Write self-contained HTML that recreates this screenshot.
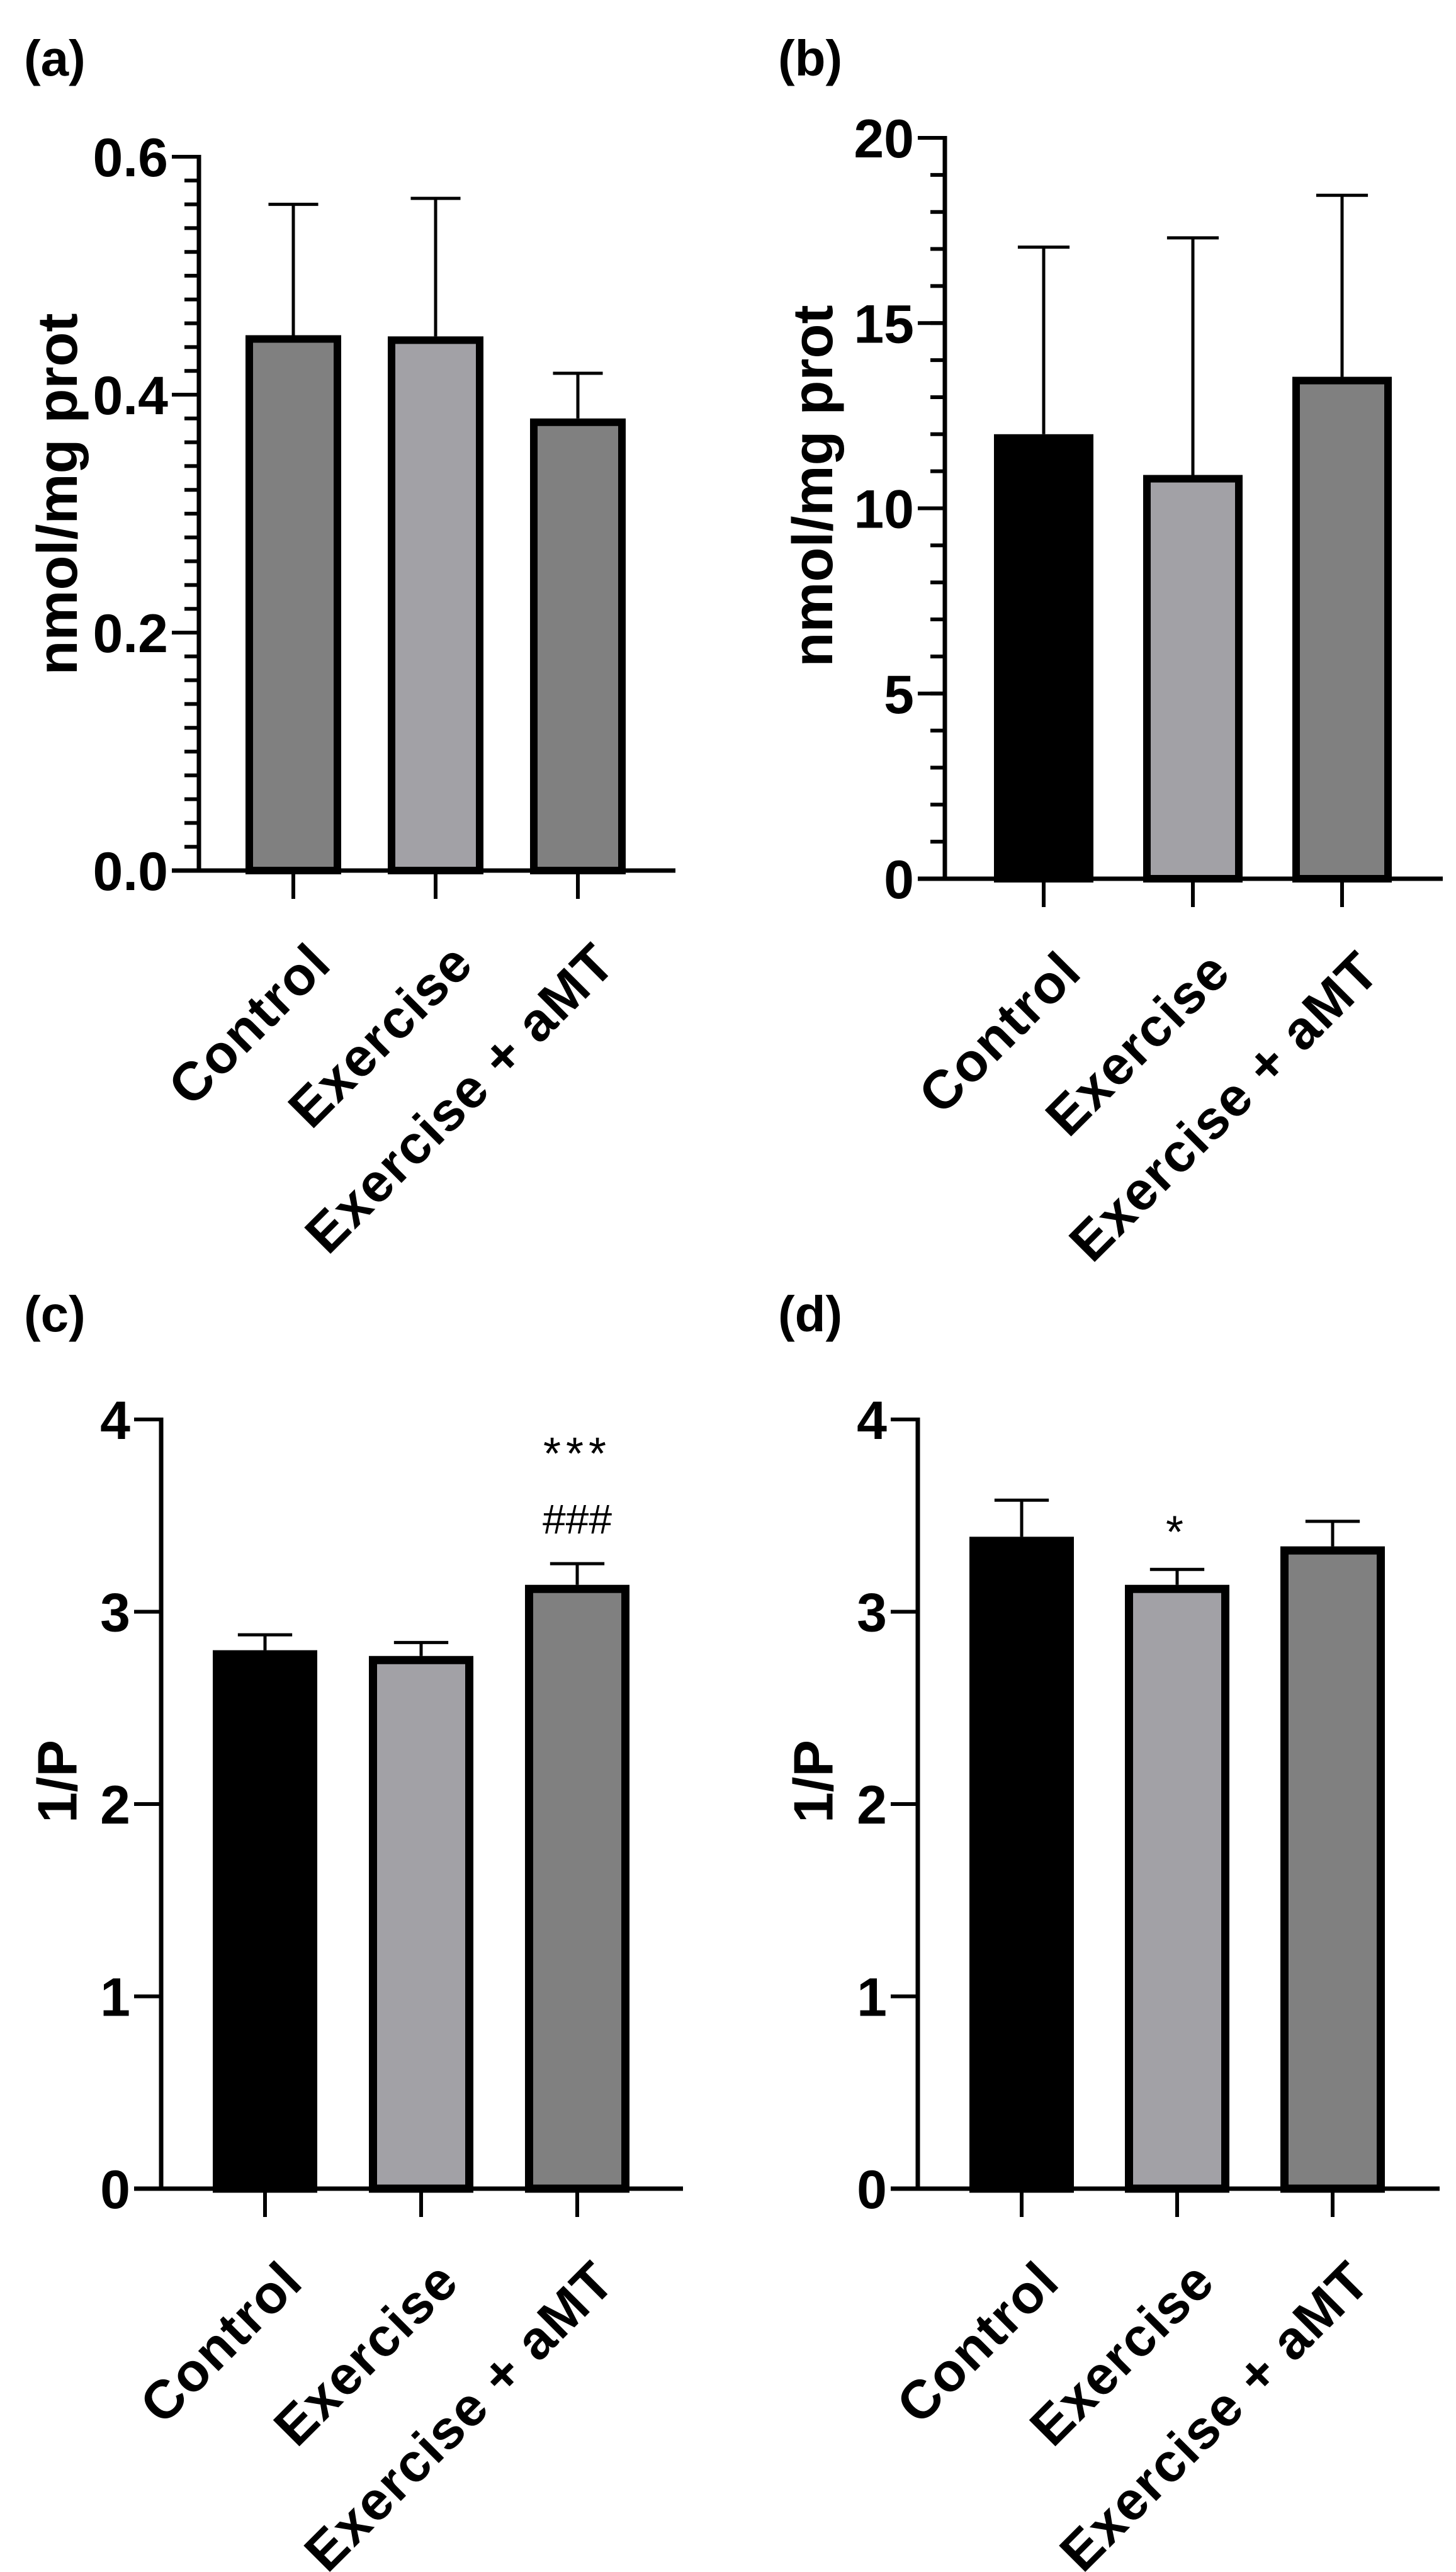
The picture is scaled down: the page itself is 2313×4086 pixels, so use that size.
<!DOCTYPE html>
<html><head><meta charset="utf-8"><style>
html,body{margin:0;padding:0;background:#fff;}
svg{display:block;}
text{font-family:"Liberation Sans",Arial,sans-serif;}
</style></head><body>
<svg id="fig" width="2313" height="4086" viewBox="0 0 2313 4086" xmlns="http://www.w3.org/2000/svg"></svg>
<script>
const categories = ["Control", "Exercise", "Exercise + aMT"];
const valuesA = [0.45, 0.449, 0.38];
const errTopA = [0.560, 0.565, 0.418];
const valuesB = [12.0, 10.9, 13.55];
const errTopB = [17.05, 17.3, 18.45];
const valuesC = [2.80, 2.77, 3.14];
const errTopC = [2.88, 2.84, 3.25];
const valuesD = [3.39, 3.14, 3.34];
const errTopD = [3.58, 3.22, 3.47];
const ticksA = [0, 0.2, 0.4, 0.6];
const tickLabelsA = ["0.0", "0.2", "0.4", "0.6"];
const ticksB = [0, 5, 10, 15, 20];
const tickLabelsB = ["0", "5", "10", "15", "20"];
const ticksCD = [0, 1, 2, 3, 4];
const tickLabelsCD = ["0", "1", "2", "3", "4"];
const annotC = ["", "", "***"];
const annotC2 = ["", "", "###"];
const annotD = ["", "*", ""];

const NS = "http://www.w3.org/2000/svg";
const svg = document.getElementById("fig");
function mk(tag, attrs, parent, txt) {
  const e = document.createElementNS(NS, tag);
  for (const k in attrs) e.setAttribute(k, attrs[k]);
  if (txt !== undefined) e.textContent = txt;
  (parent || svg).appendChild(e);
  return e;
}

function panel(p) {
  const g = mk("g", {});
  
  
  const y = v => p.y0 - (v / p.max) * (p.y0 - p.yTop);
  const xc = i => p.x0 + p.offset + i * p.step;

  const lbl = mk("text", {x: p.lx, y: p.ly, "font-size": 80, "font-weight": "bold"}, g, "(" + p.id + ")");
  
  

  if (p.minor) {
    for (let v = 0; v <= p.max + 1e-9; v += p.minor) {
      const t = mk("line", {x1: p.x0 - 23, x2: p.x0, y1: y(v), y2: y(v), stroke: "#000", "stroke-width": 6}, g);
      
      
    }
  }
  p.ticks.forEach((v, i) => {
    const t = mk("line", {x1: p.x0 - 43, x2: p.x0, y1: y(v), y2: y(v), stroke: "#000", "stroke-width": 6}, g);
    
    
    const tl = mk("text", {x: p.x0 - 49, y: y(v) + 31, "font-size": 86, "font-weight": "bold", "text-anchor": "end"}, g, p.tickLabels[i]);
    
    
  });

  const yl = mk("text", {x: 0, y: 0, "font-size": p.yfs, "font-weight": "bold", "text-anchor": "middle", "dominant-baseline": "central",
    transform: "translate(" + p.ylx + "," + p.yly + ") rotate(-90)"}, g, p.ytitle);
  
  

  categories.forEach((c, i) => {
    const cx = xc(i);
    const v = p.values[i];
    const et = mk("line", {x1: cx, x2: cx, y1: y(v), y2: y(p.err[i]), stroke: "#000", "stroke-width": 5}, g);
    
    
    const ec = mk("line", {x1: cx - p.width * 0.26, x2: cx + p.width * 0.26, y1: y(p.err[i]), y2: y(p.err[i]), stroke: "#000", "stroke-width": 5}, g);
    
    
    const bw = p.border;
    const r = mk("rect", {x: cx - p.width / 2 + bw / 2, y: y(v) + bw / 2, width: p.width - bw, height: p.y0 - y(v) - bw / 2,
      fill: p.fills[i], stroke: "#000", "stroke-width": bw}, g);
    
    
    const xt = mk("line", {x1: cx, x2: cx, y1: p.y0, y2: p.y0 + 45, stroke: "#000", "stroke-width": 6}, g);
    
    
    const ct = mk("text", {x: 0, y: 0, "font-size": 86, "font-weight": "bold", "text-anchor": "end", "letter-spacing": 2,
      transform: "translate(" + (cx + 64) + "," + (p.y0 + 152) + ") rotate(-45)"}, g, c);
    
    
    if (p.annot && p.annot[i]) {
      const a = mk("text", {x: cx, y: y(p.err[i]) - p.annotOff, "font-size": 72, "text-anchor": "middle", "letter-spacing": 8}, g, p.annot[i]);
      
      
    }
    if (p.annot2 && p.annot2[i]) {
      const a = mk("text", {x: cx, y: y(p.err[i]) - 48, "font-size": 66, "text-anchor": "middle"}, g, p.annot2[i]);
      
      
    }
  });

  const ya = mk("line", {x1: p.x0, x2: p.x0, y1: p.yTop - 3, y2: p.y0 + 3, stroke: "#000", "stroke-width": 7}, g);
  
  
  const xa = mk("line", {x1: p.x0 - 43, x2: p.xEnd, y1: p.y0, y2: p.y0, stroke: "#000", "stroke-width": 7}, g);
  
  
}

panel({id: "a", x0: 316, y0: 1383, yTop: 249, max: 0.6, xEnd: 1073, offset: 150, step: 226, width: 152, border: 12,
  minor: 0.02, ticks: ticksA, tickLabels: tickLabelsA, values: valuesA, err: errTopA,
  fills: ["#808080", "#a2a1a6", "#808080"], lx: 38, ly: 120, ytitle: "nmol/mg prot", yfs: 90, ylx: 92, yly: 785});
panel({id: "b", x0: 1501, y0: 1396, yTop: 219, max: 20, xEnd: 2292, offset: 157, step: 237, width: 158, border: 12,
  minor: 1, ticks: ticksB, tickLabels: tickLabelsB, values: valuesB, err: errTopB,
  fills: ["#000000", "#a2a1a6", "#808080"], lx: 1236, ly: 120, ytitle: "nmol/mg prot", yfs: 90, ylx: 1292, yly: 772});
panel({id: "c", x0: 256, y0: 3477, yTop: 2255, max: 4, xEnd: 1085, offset: 165, step: 248, width: 166, border: 13,
  minor: 0, ticks: ticksCD, tickLabels: tickLabelsCD, values: valuesC, err: errTopC,
  fills: ["#000000", "#a2a1a6", "#808080"], lx: 38, ly: 2115, ytitle: "1/P", yfs: 88, ylx: 91, yly: 2830,
  annot: annotC, annotOff: 150, annot2: annotC2});
panel({id: "d", x0: 1458, y0: 3477, yTop: 2255, max: 4, xEnd: 2287, offset: 165, step: 247, width: 166, border: 13,
  minor: 0, ticks: ticksCD, tickLabels: tickLabelsCD, values: valuesD, err: errTopD,
  fills: ["#000000", "#a2a1a6", "#808080"], lx: 1236, ly: 2115, ytitle: "1/P", yfs: 88, ylx: 1292, yly: 2830,
  annot: annotD, annotOff: 35});
</script>
</body></html>
